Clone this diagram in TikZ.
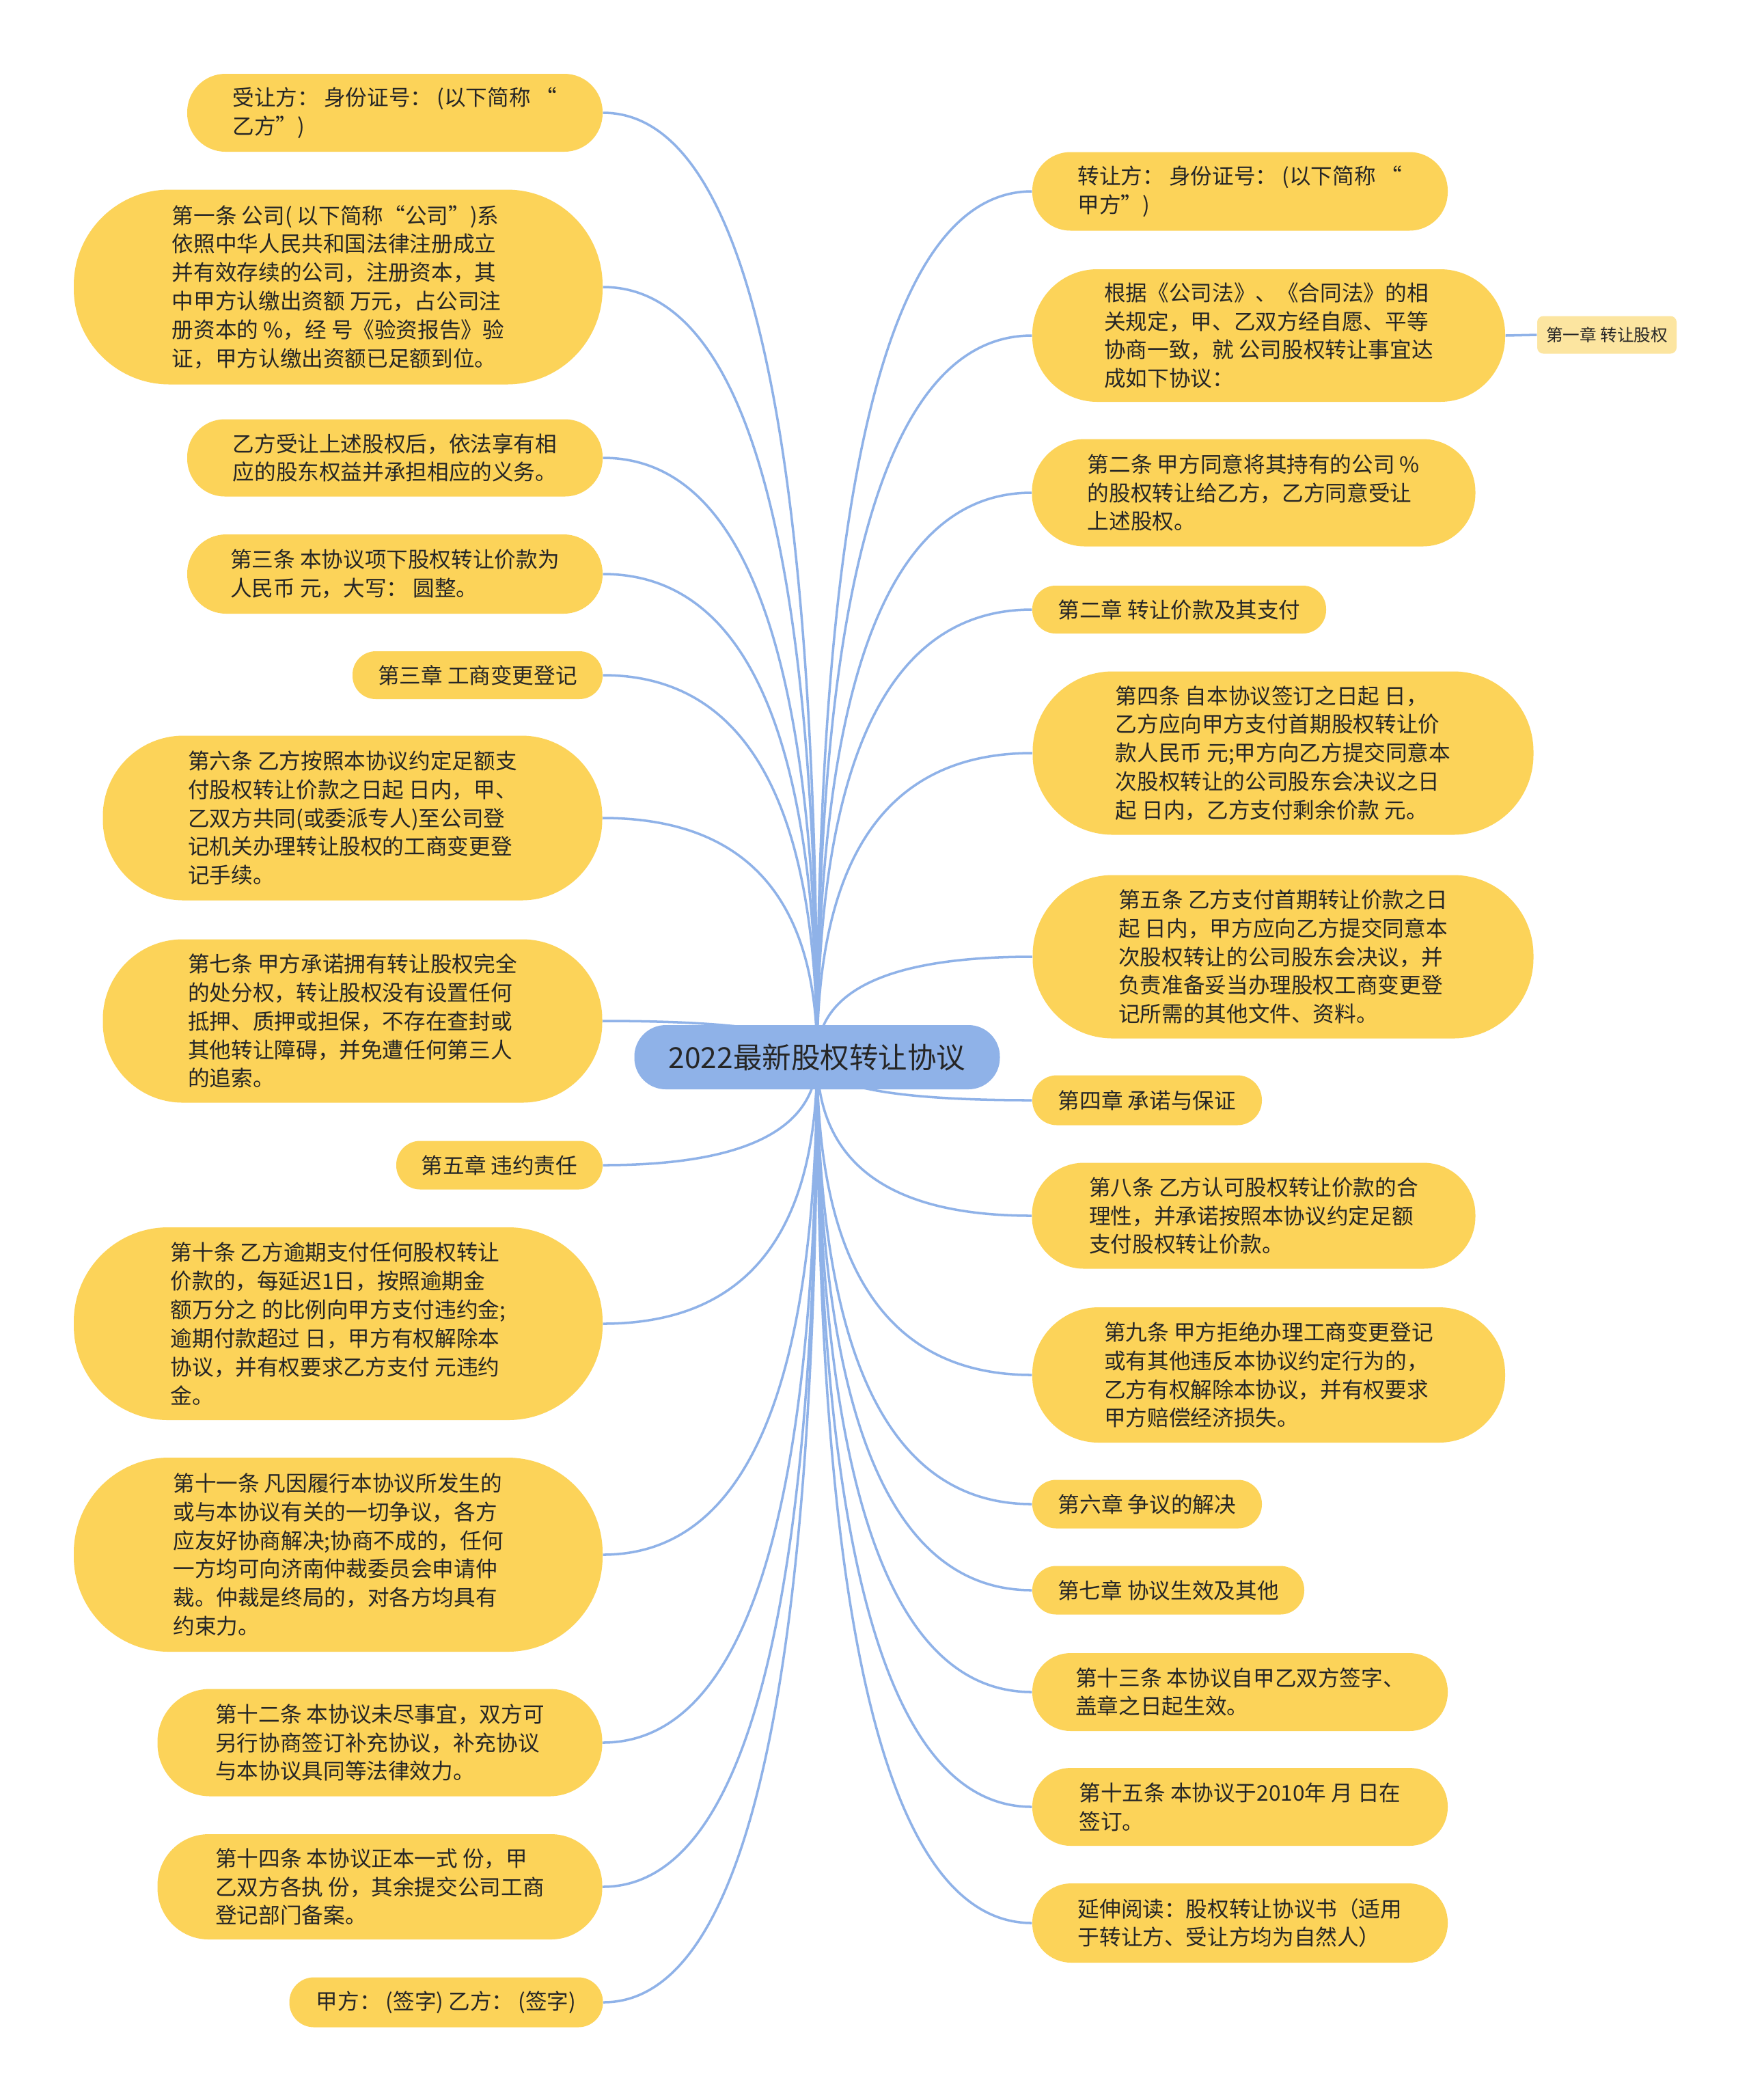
\documentclass[tikz,border=0pt]{standalone}
\usepackage{fontspec}
\newfontfamily\cjkfont{Noto Sans CJK SC}
\usetikzlibrary{calc,backgrounds}
\definecolor{pillyellow}{RGB}{252,211,89}
\definecolor{subyellow}{RGB}{252,229,160}
\definecolor{rootblue}{RGB}{143,178,232}
\definecolor{linkblue}{RGB}{143,178,232}
\definecolor{txt}{RGB}{38,38,38}
\tikzset{
  topic/.style={fill=pillyellow, draw=none, align=left, inner sep=0pt, text=txt,
    font=\cjkfont\fontsize{9pt}{11.9pt}\selectfont},
  roottopic/.style={fill=rootblue, draw=none, align=center, inner sep=0pt, text=txt,
    font=\cjkfont\fontsize{12.1pt}{14pt}\selectfont},
  subtopic/.style={fill=subyellow, draw=none, inner sep=0pt, text=txt,
    font=\cjkfont\fontsize{7pt}{8.5pt}\selectfont, rounded corners=0.09cm},
  conn/.style={draw=linkblue, line width=1pt},
}
\begin{document}
\begin{tikzpicture}
\useasboundingbox (0,0) rectangle (25.6,-30.73);

% root
\node[roottopic, minimum width=5.35cm, minimum height=0.94cm, rounded corners=0.46cm] (ctr) at (11.96,-15.47) {2022最新股权转让协议};

% left side
\node[topic, minimum width=6.08cm, minimum height=1.14cm, rounded corners=0.56cm] (l1) at (5.78,-1.65) {受让方： 身份证号： (以下简称 “\\乙方”)};
\node[topic, minimum width=7.74cm, minimum height=2.85cm, rounded corners=1.40cm] (l2) at (4.95,-4.20) {第一条 公司( 以下简称“公司”)系\\依照中华人民共和国法律注册成立\\并有效存续的公司，注册资本，其\\中甲方认缴出资额 万元，占公司注\\册资本的 \%，经 号《验资报告》验\\证，甲方认缴出资额已足额到位。};
\node[topic, minimum width=6.08cm, minimum height=1.13cm, rounded corners=0.55cm] (l3) at (5.78,-6.70) {乙方受让上述股权后，依法享有相\\应的股东权益并承担相应的义务。};
\node[topic, minimum width=6.08cm, minimum height=1.16cm, rounded corners=0.57cm] (l4) at (5.78,-8.40) {第三条 本协议项下股权转让价款为\\人民币 元，大写： 圆整。};
\node[topic, minimum width=3.66cm, minimum height=0.70cm, rounded corners=0.34cm] (l5) at (6.99,-9.88) {第三章 工商变更登记};
\node[topic, minimum width=7.31cm, minimum height=2.41cm, rounded corners=1.18cm] (l6) at (5.16,-11.97) {第六条 乙方按照本协议约定足额支\\付股权转让价款之日起 日内，甲、\\乙双方共同(或委派专人)至公司登\\记机关办理转让股权的工商变更登\\记手续。};
\node[topic, minimum width=7.31cm, minimum height=2.39cm, rounded corners=1.17cm] (l7) at (5.16,-14.94) {第七条 甲方承诺拥有转让股权完全\\的处分权，转让股权没有设置任何\\抵押、质押或担保，不存在查封或\\其他转让障碍，并免遭任何第三人\\的追索。};
\node[topic, minimum width=3.02cm, minimum height=0.71cm, rounded corners=0.35cm] (l8) at (7.31,-17.05) {第五章 违约责任};
\node[topic, minimum width=7.74cm, minimum height=2.82cm, rounded corners=1.38cm] (l9) at (4.95,-19.37) {第十条 乙方逾期支付任何股权转让\\价款的，每延迟1日，按照逾期金\\额万分之 的比例向甲方支付违约金;\\逾期付款超过 日，甲方有权解除本\\协议，并有权要求乙方支付 元违约\\金。};
\node[topic, minimum width=7.74cm, minimum height=2.84cm, rounded corners=1.39cm] (l10) at (4.95,-22.75) {第十一条 凡因履行本协议所发生的\\或与本协议有关的一切争议，各方\\应友好协商解决;协商不成的，任何\\一方均可向济南仲裁委员会申请仲\\裁。仲裁是终局的，对各方均具有\\约束力。};
\node[topic, minimum width=6.51cm, minimum height=1.57cm, rounded corners=0.77cm] (l11) at (5.56,-25.50) {第十二条 本协议未尽事宜，双方可\\另行协商签订补充协议，补充协议\\与本协议具同等法律效力。};
\node[topic, minimum width=6.51cm, minimum height=1.54cm, rounded corners=0.75cm] (l12) at (5.56,-27.61) {第十四条 本协议正本一式 份，甲\\乙双方各执 份，其余提交公司工商\\登记部门备案。};
\node[topic, minimum width=4.59cm, minimum height=0.73cm, rounded corners=0.36cm] (l13) at (6.53,-29.30) {甲方： (签字) 乙方： (签字)};

% right side
\node[topic, minimum width=6.08cm, minimum height=1.15cm, rounded corners=0.56cm] (r1) at (18.15,-2.80) {转让方： 身份证号： (以下简称 “\\甲方”)};
\node[topic, minimum width=6.92cm, minimum height=1.94cm, rounded corners=0.95cm] (r2) at (18.57,-4.91) {根据《公司法》、《合同法》的相\\关规定，甲、乙双方经自愿、平等\\协商一致，就 公司股权转让事宜达\\成如下协议：};
\node[subtopic, minimum width=2.04cm, minimum height=0.55cm] (r2c) at (23.52,-4.90) {第一章 转让股权};
\node[topic, minimum width=6.49cm, minimum height=1.57cm, rounded corners=0.77cm] (r3) at (18.35,-7.21) {第二条 甲方同意将其持有的公司 \%\\的股权转让给乙方，乙方同意受让\\上述股权。};
\node[topic, minimum width=4.30cm, minimum height=0.70cm, rounded corners=0.34cm] (r4) at (17.26,-8.92) {第二章 转让价款及其支付};
\node[topic, minimum width=7.33cm, minimum height=2.39cm, rounded corners=1.17cm] (r5) at (18.78,-11.02) {第四条 自本协议签订之日起 日，\\乙方应向甲方支付首期股权转让价\\款人民币 元;甲方向乙方提交同意本\\次股权转让的公司股东会决议之日\\起 日内，乙方支付剩余价款 元。};
\node[topic, minimum width=7.33cm, minimum height=2.39cm, rounded corners=1.17cm] (r6) at (18.78,-14.00) {第五条 乙方支付首期转让价款之日\\起 日内，甲方应向乙方提交同意本\\次股权转让的公司股东会决议，并\\负责准备妥当办理股权工商变更登\\记所需的其他文件、资料。};
\node[topic, minimum width=3.36cm, minimum height=0.73cm, rounded corners=0.36cm] (r7) at (16.79,-16.10) {第四章 承诺与保证};
\node[topic, minimum width=6.49cm, minimum height=1.55cm, rounded corners=0.76cm] (r8) at (18.35,-17.79) {第八条 乙方认可股权转让价款的合\\理性，并承诺按照本协议约定足额\\支付股权转让价款。};
\node[topic, minimum width=6.92cm, minimum height=1.98cm, rounded corners=0.97cm] (r9) at (18.57,-20.12) {第九条 甲方拒绝办理工商变更登记\\或有其他违反本协议约定行为的，\\乙方有权解除本协议，并有权要求\\甲方赔偿经济损失。};
\node[topic, minimum width=3.36cm, minimum height=0.71cm, rounded corners=0.35cm] (r10) at (16.79,-22.01) {第六章 争议的解决};
\node[topic, minimum width=3.98cm, minimum height=0.71cm, rounded corners=0.35cm] (r11) at (17.10,-23.27) {第七章 协议生效及其他};
\node[topic, minimum width=6.08cm, minimum height=1.14cm, rounded corners=0.56cm] (r12) at (18.15,-24.76) {第十三条 本协议自甲乙双方签字、\\盖章之日起生效。};
\node[topic, minimum width=6.08cm, minimum height=1.14cm, rounded corners=0.56cm] (r13) at (18.15,-26.44) {第十五条 本协议于2010年 月 日在\\签订。};
\node[topic, minimum width=6.08cm, minimum height=1.16cm, rounded corners=0.57cm] (r14) at (18.15,-28.14) {延伸阅读：股权转让协议书（适用\\于转让方、受让方均为自然人）};

% background and connectors
\begin{scope}[on background layer]
\fill[white] (0,0) rectangle (25.6,-30.73);
\foreach \n/\a in {l1/east,l2/east,l3/east,l4/east,l5/east,l6/east,l7/east,l8/east,l9/east,l10/east,l11/east,l12/east,l13/east,
  r1/west,r2/west,r3/west,r4/west,r5/west,r6/west,r7/west,r8/west,r9/west,r10/west,r11/west,r12/west,r13/west,r14/west}{
  \coordinate (k) at (ctr.center |- \n.\a);
  \draw[conn] (ctr.center) .. controls ($(ctr.center)!0.6667!(k)$) and ($(\n.\a)!0.6667!(k)$) .. (\n.\a);
}
\draw[conn] (r2.east) -- (r2c.west);
\end{scope}
\end{tikzpicture}
\end{document}
